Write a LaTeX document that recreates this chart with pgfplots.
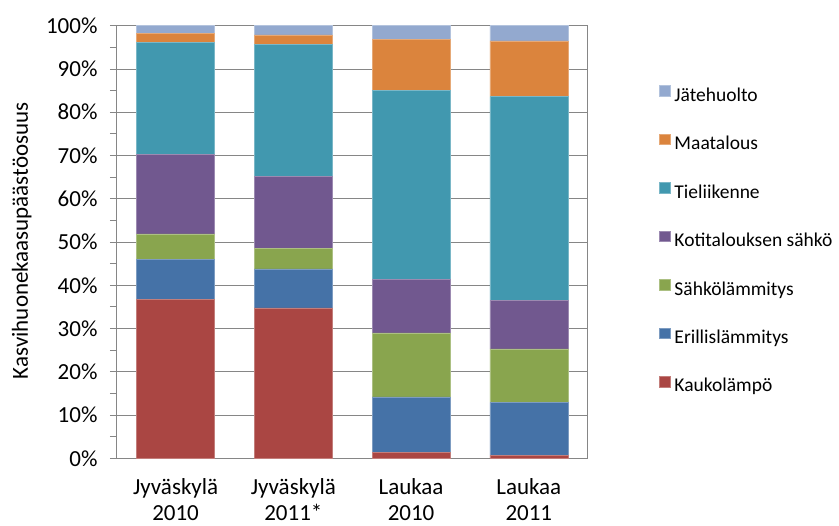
\documentclass[border=0pt]{standalone}
\usepackage{pgfplots}
\pgfplotsset{compat=1.18}
\usepackage{fontspec}
\setmainfont{Carlito}

\definecolor{kauko}{HTML}{AA4643}
\definecolor{erillis}{HTML}{4572A7}
\definecolor{sahko}{HTML}{89A54E}
\definecolor{koti}{HTML}{71588F}
\definecolor{tie}{HTML}{4198AF}
\definecolor{maat}{HTML}{DB843D}
\definecolor{jate}{HTML}{93A9CF}
\definecolor{axisgray}{HTML}{868686}

\newcommand\tickfont{\fontsize{23bp}{26bp}\selectfont}
\newcommand\legfont{\fontsize{19.5bp}{22bp}\selectfont}

\begin{document}
\begin{tikzpicture}
\useasboundingbox (0,0) rectangle (839bp,526bp);
\begin{axis}[
  at={(116.7bp,67.7bp)}, anchor=south west,
  scale only axis, width=471bp, height=432.6bp,
  ybar stacked, bar width=78bp,
  xmin=-0.5, xmax=3.5, ymin=0, ymax=100,
  xtick={0,1,2,3},
  xticklabels={{Jyväskylä\\2010},{Jyväskylä\\2011*},{Laukaa\\2010},{Laukaa\\2011}},
  xticklabel style={align=center, font=\tickfont, yshift=-10bp},
  major x tick style={draw=none},
  ytick={0,10,...,100}, minor y tick num=1,
  ytick pos=left,
  /pgf/number format/assume math mode=true,
  yticklabel={\pgfmathprintnumber{\tick}\%},
  yticklabel style={font=\tickfont, xshift=-9bp},
  tick align=outside,
  major tick length=6.7bp, minor tick length=6.7bp,
  ymajorgrids,
  grid style={axisgray, line width=0.8bp},
  axis line style={axisgray, line width=0.8bp},
  tick style={axisgray, line width=0.8bp},
  ylabel={Kasvihuonekaasupäästöosuus},
  ylabel style={at={(axis description cs:-0.2017,0.503)}, anchor=center, font=\tickfont},
  reverse legend,
  legend cell align=left,
  legend image code/.code={\path[#1] (0bp,1bp) rectangle (10.7bp,11.7bp);},
  legend style={draw=none, fill=none, inner sep=0pt, outer sep=0pt,
    at={(1.152,0.502)}, anchor=west, font=\legfont, row sep=27.5bp,
    nodes={inner sep=0pt, text height=13bp, text depth=5bp},
    /tikz/every odd column/.append style={column sep=4bp}},
  every axis plot/.append style={line width=0.5bp},
]
% stacked from the bottom: district heat first
\addplot[fill=kauko, draw=kauko!70!white] coordinates {(0,36.8) (1,34.8) (2,1.3) (3,0.7)};
\addlegendentry{Kaukolämpö}
\addplot[fill=erillis, draw=erillis!70!white] coordinates {(0,9.2) (1,9.0) (2,12.9) (3,12.2)};
\addlegendentry{Erillislämmitys}
\addplot[fill=sahko, draw=sahko!70!white] coordinates {(0,5.9) (1,4.8) (2,14.8) (3,12.4)};
\addlegendentry{Sähkölämmitys}
\addplot[fill=koti, draw=koti!70!white] coordinates {(0,18.4) (1,16.5) (2,12.4) (3,11.2)};
\addlegendentry{Kotitalouksen sähkö}
\addplot[fill=tie, draw=tie!70!white] coordinates {(0,25.9) (1,30.6) (2,43.7) (3,47.1)};
\addlegendentry{Tieliikenne}
\addplot[fill=maat, draw=maat!70!white] coordinates {(0,2.0) (1,2.2) (2,11.8) (3,12.9)};
\addlegendentry{Maatalous}
\addplot[fill=jate, draw=jate!70!white] coordinates {(0,1.8) (1,2.1) (2,3.1) (3,3.5)};
\addlegendentry{Jätehuolto}
\end{axis}
\end{tikzpicture}
\end{document}
